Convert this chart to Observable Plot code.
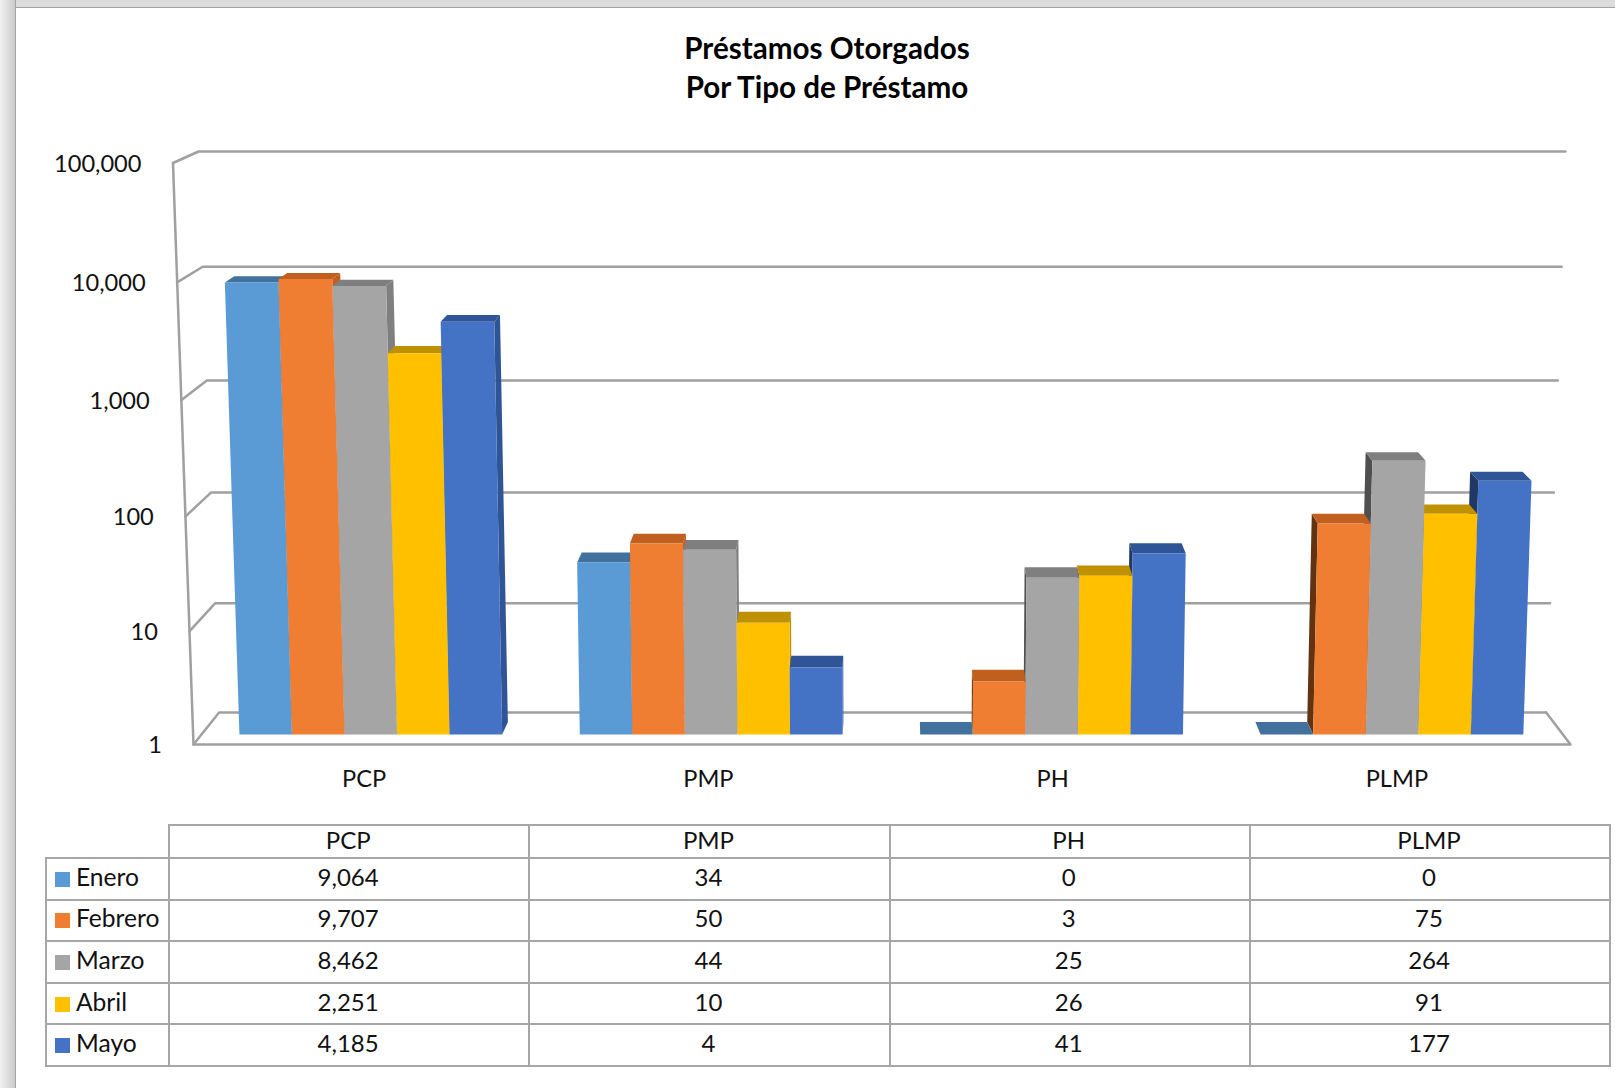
<!DOCTYPE html>
<html lang="es">
<head>
<meta charset="utf-8">
<title>Préstamos Otorgados</title>
<script src="https://cdn.jsdelivr.net/npm/d3@7"></script>
<script src="https://cdn.jsdelivr.net/npm/@observablehq/plot@0.6"></script>
<style>
  html, body { margin: 0; padding: 0; background: #fff; }
  body { width: 1615px; height: 1088px; position: relative; overflow: hidden; font-family: Lato, sans-serif; color: #111; }
  #edgeTop { position: absolute; left: 0; top: 0; width: 1615px; height: 7px; background: #dcdcdc; border-bottom: 1.5px solid #a2a2a2; box-sizing: content-box; }
  #edgeLeft { position: absolute; left: 0; top: 0; width: 15px; height: 1088px; background: linear-gradient(90deg, #f2f2f2, #cbcbcb); border-right: 1.5px solid #a2a2a2; }
  #title { position: absolute; left: 0; width: 1654px; top: 29px; text-align: center; font-weight: 700; font-size: 29.6px; line-height: 38.5px; color: #000; margin: 0; }
  #chart { position: absolute; left: 0; top: 120px; }
  #chart svg { display: block; background: transparent; }
  table { position: absolute; left: 45px; top: 824px; border-collapse: collapse; table-layout: fixed; font-size: 24px; line-height: 24px; color: #111; }
  td, th { border: 2px solid #a6a6a6; padding: 0 2px 4px 0; text-align: center; font-weight: 400; box-sizing: border-box; }
  th.blank { border-top: none; border-left: none; }
  td.name { text-align: left; white-space: nowrap; padding: 0 0 4px 8px; font-size: 24.6px; }
  td.name i { display: inline-block; width: 15px; height: 15px; margin-right: 6px; vertical-align: -1px; }
  tr.head th { height: 33px; }
  tr.body td { height: 41.6px; }
</style>
</head>
<body>
<div id="edgeTop"></div>
<div id="edgeLeft"></div>
<h1 id="title">Préstamos Otorgados<br>Por Tipo de Préstamo</h1>
<div id="chart"></div>
<script>
const categories = ["PCP", "PMP", "PH", "PLMP"];
const months = ["Enero", "Febrero", "Marzo", "Abril", "Mayo"];
const enero = [9064, 34, 0, 0];
const febrero = [9707, 50, 3, 75];
const marzo = [8462, 44, 25, 264];
const abril = [2251, 10, 26, 91];
const mayo = [4185, 4, 41, 177];
const seriesValues = [enero, febrero, marzo, abril, mayo];
const yTicks = [1, 10, 100, 1000, 10000, 100000];

const frontColors = ["#5b9bd5", "#ef7d32", "#a5a5a5", "#ffc000", "#4472c4"];
const topColors = ["#41719c", "#c05f1e", "#7f7f7f", "#bf9000", "#2f5597"];
const leftColors = ["#2c4d69", "#633311", "#4f4f4f", "#7f6000", "#1f3864"];

// ---- oblique view of the box, expressed in the units of the x and y scales ----
// u: category units (0..4), l: decades (0..5), d: depth (0 front, 1 back wall)
function view(u, l, d, leftTilt = 1) {
  const n = 1 - d;
  const left = -0.0772 * n - 0.01236 * l * leftTilt;
  const right = 4 + 0.0732 * n + 0.01163 * l;
  const g = l - 0.0067 * l * (5 - l);
  return {x: left + (right - left) * u / 4, y: Math.pow(10, g * (1 + 0.0366 * n) - 0.2855 * n)};
}
const barFront = 0.31, barBack = 0.70, groupStart = 0.1116, barWidth = 0.1544, barTilt = 0.95;

// ---- polygons of the bars, back-most faces first ----
const faces = [];
function addFace(id, fill, corners) {
  corners.forEach(c => { const p = view(c[0], c[1], c[2], barTilt); faces.push({id, fill, x: p.x, y: p.y}); });
}
categories.forEach((cat, c) => {
  const order = c < 2 ? [0, 1, 2, 3, 4] : [4, 3, 2, 1, 0];
  order.forEach(s => {
    const v = seriesValues[s][c];
    const l = v > 0 ? Math.log10(v) : 0;
    const u0 = c + groupStart + s * barWidth, u1 = u0 + barWidth;
    const f = barFront, b = barBack, key = cat + months[s];
    if (l > 0) {
      if (c < 2) addFace(key + "side", topColors[s], [[u1, 0, f], [u1, 0, b], [u1, l, b], [u1, l, f]]);
      else addFace(key + "side", leftColors[s], [[u0, 0, f], [u0, 0, b], [u0, l, b], [u0, l, f]]);
    }
    addFace(key + "top", topColors[s], [[u0, l, f], [u1, l, f], [u1, l, b], [u0, l, b]]);
    if (l > 0) addFace(key + "front", frontColors[s], [[u0, 0, f], [u1, 0, f], [u1, l, f], [u0, l, f]]);
  });
});

// ---- gridlines and box edges ----
const frame = [];
function addLine(id, corners) {
  corners.forEach(c => { const p = view(c[0], c[1], c[2]); frame.push({id, x: p.x, y: p.y}); });
}
yTicks.forEach(t => {
  const l = Math.log10(t);
  addLine("grid" + t, [[0, l, 0], [0, l, 1], [4, l, 1]]);
});
addLine("axis", [[0, 5, 0], [0, 0, 0], [4, 0, 0], [4, 0, 1]]);

const tickAnchors = yTicks.map(t => ({t, ...view(0, Math.log10(t), 0)}));
const catAnchors = categories.map((name, i) => ({name, ...view(i + 0.5, 0, 0)}));

const plot = Plot.plot({
  width: 1615,
  height: 680,
  margin: 0,
  style: {background: "transparent", fontFamily: "Lato, sans-serif"},
  x: {axis: null, domain: [0, 4], range: [218.6, 1545.7]},
  y: {axis: null, type: "log", domain: [1, 100000], range: [592, 31]},
  color: {type: "identity"},
  marks: [
    Plot.line(frame, {x: "x", y: "y", z: "id", stroke: "#a0a0a0", strokeWidth: 2.5, curve: "linear"}),
    Plot.line(faces, {x: "x", y: "y", z: "id", fill: "fill", stroke: "none", curve: "linear-closed"}),
    Plot.text(tickAnchors, {x: "x", y: "y", text: d => d3.format(",")(d.t), textAnchor: "end", dx: -31.5, dy: 1, fontSize: 23.6, fill: "#111"}),
    Plot.text(catAnchors, {x: "x", y: "y", text: "name", dx: -1.5, dy: 35, fontSize: 23.6, fill: "#111"})
  ]
});
document.getElementById("chart").append(plot);

// ---- data table below the chart ----
const table = d3.select("body").append("table");
const colgroup = table.append("colgroup");
colgroup.append("col").style("width", "123px");
categories.forEach(() => colgroup.append("col").style("width", "360.3px"));
const head = table.append("tr").attr("class", "head");
head.append("th").attr("class", "blank");
categories.forEach(c => head.append("th").text(c));
months.forEach((m, s) => {
  const row = table.append("tr").attr("class", "body");
  const name = row.append("td").attr("class", "name");
  name.append("i").style("background", frontColors[s]);
  name.append("span").text(m);
  seriesValues[s].forEach(v => row.append("td").text(d3.format(",")(v)));
});
</script>
</body>
</html>
